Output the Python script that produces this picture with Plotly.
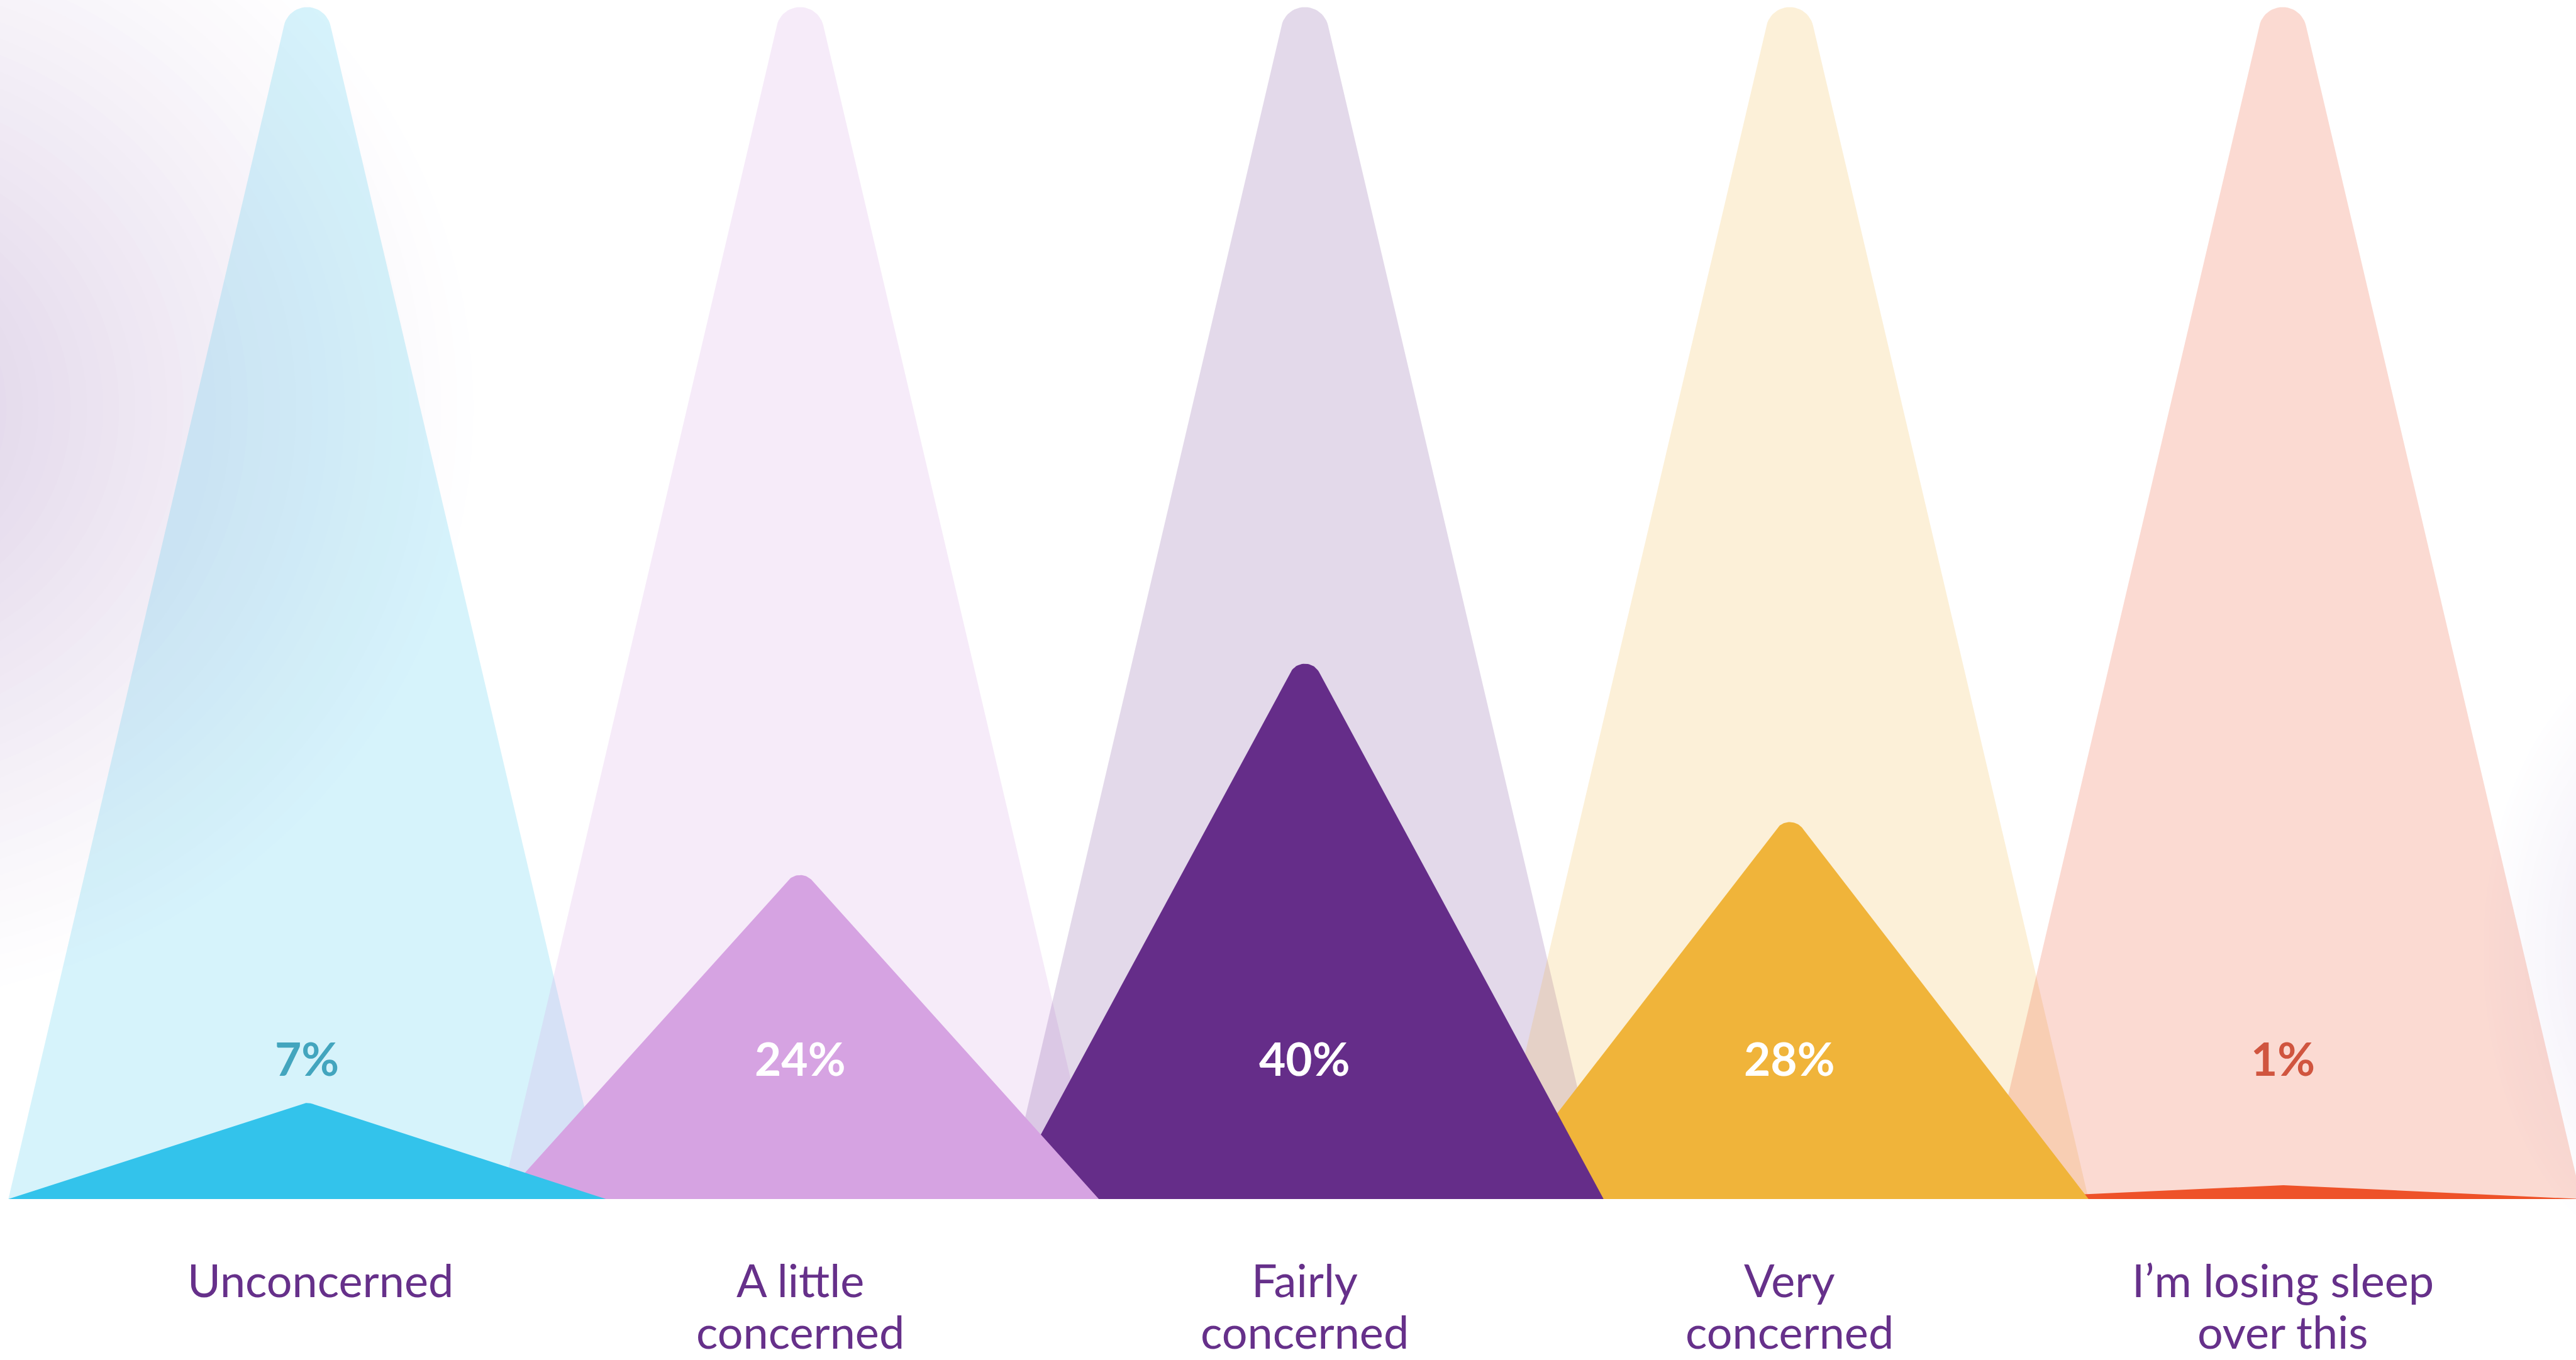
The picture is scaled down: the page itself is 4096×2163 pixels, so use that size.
import math
import plotly.graph_objects as go

# ---------------- data ----------------
categories = ["Unconcerned", "A little\nconcerned", "Fairly\nconcerned", "Very\nconcerned", "I’m losing sleep\nover this"]
values = [7, 24, 40, 28, 1]
value_labels = ["7%", "24%", "40%", "28%", "1%"]
backdrop_value = 92  # height of the pale "full" peaks behind each response

# ---------------- style / layout ----------------
solid_colors = ["#33C3EB", "#D6A3E2", "#652D89", "#F0B43A", "#EE5229"]
pale_colors = ["rgba(51,195,235,0.20)", "rgba(214,163,226,0.22)", "rgba(101,45,137,0.18)",
               "rgba(240,180,58,0.20)", "rgba(238,82,41,0.21)"]
pct_colors = ["#43A5BE", "#FFFFFF", "#FFFFFF", "#FFFFFF", "#D0553F"]
label_color = "#66308A"

W, H = 4096, 2163
X_RANGE = [-0.622, 4.594]
Y_RANGE = [-11.64, 86.68]
PX_X = W / (X_RANGE[1] - X_RANGE[0])
PX_Y = H / (Y_RANGE[1] - Y_RANGE[0])
HALF_W = 0.605  # half base width of every peak (x units)

positions = [0, 0.998, 2.02, 3.002, 4.0]
label_shift = [0.027, 0, 0, 0, 0]


def rounded_peak(c, h, w, r, n=24):
    """Triangle with base (c-w,0)-(c+w,0) and apex (c,h); apex rounded with radius r px."""
    Hp, Wp = h * PX_Y, w * PX_X
    theta = math.atan2(Wp, Hp)
    d = r / math.tan(theta)
    side = math.hypot(Wp, Hp)
    if d > 0.8 * side:
        r = 0.8 * side * math.tan(theta)
    cy = Hp - r / math.sin(theta)
    xs, ys = [c - w], [0]
    for k in range(n + 1):
        a = (math.pi - theta) - (math.pi - 2 * theta) * k / n
        xs.append(c + r * math.cos(a) / PX_X)
        ys.append((cy + r * math.sin(a)) / PX_Y)
    xs += [c + w, c - w]
    ys += [0, 0]
    return xs, ys


fig = go.Figure()

# pale backdrop peaks
for i, p in enumerate(positions):
    xs, ys = rounded_peak(p, backdrop_value, HALF_W, 38)
    fig.add_trace(go.Scatter(x=xs, y=ys, mode="lines", fill="toself", fillcolor=pale_colors[i],
                             line=dict(width=0, color="rgba(0,0,0,0)"), hoverinfo="skip", showlegend=False))

# value peaks (drawn right-to-left so earlier ones sit on top)
for i in reversed(range(len(values))):
    xs, ys = rounded_peak(positions[i], values[i], HALF_W, 26)
    fig.add_trace(go.Scatter(x=xs, y=ys, mode="lines", fill="toself", fillcolor=solid_colors[i],
                             line=dict(width=0, color="rgba(0,0,0,0)"), hoverinfo="skip", showlegend=False))

annotations = []
for i, p in enumerate(positions):
    annotations.append(dict(x=p, y=10.2, xref="x", yref="y", text=value_labels[i], showarrow=False,
                            font=dict(family="Lato", size=73, color=pct_colors[i], weight="bold"),
                            xanchor="center", yanchor="middle"))
    for j, ln in enumerate(categories[i].split("\n")):
        annotations.append(dict(x=p + label_shift[i], y=-5.8 - 3.75 * j, xref="x", yref="y", text=ln,
                                showarrow=False, font=dict(family="Lato", size=72, color=label_color),
                                xanchor="center", yanchor="middle"))


# soft decorative haze at the edges of the background (opaque graded rings, lightest first)
def haze(cx, cy, rx, ry, center_rgb, steps=40, power=1.1):
    out = []
    for k in range(steps):
        s = 1 - k / steps
        t = (1 - s) ** power
        col = tuple(round(255 + (c - 255) * t) for c in center_rgb)
        out.append(dict(type="circle", xref="paper", yref="paper", layer="below",
                        x0=cx - rx * s, x1=cx + rx * s, y0=cy - ry * s, y1=cy + ry * s,
                        fillcolor="rgb(%d,%d,%d)" % col, line=dict(width=0)))
    return out


shapes = (haze(-0.06, 0.70, 0.25, 0.45, (220, 206, 230)) +
          haze(1.04, 0.30, 0.08, 0.24, (234, 228, 243)))

fig.update_layout(
    width=W, height=H,
    margin=dict(l=0, r=0, t=0, b=0),
    paper_bgcolor="white", plot_bgcolor="white",
    xaxis=dict(range=X_RANGE, visible=False, fixedrange=True),
    yaxis=dict(range=Y_RANGE, visible=False, fixedrange=True),
    annotations=annotations,
    shapes=shapes,
    showlegend=False,
)

fig.write_html("out.html")
